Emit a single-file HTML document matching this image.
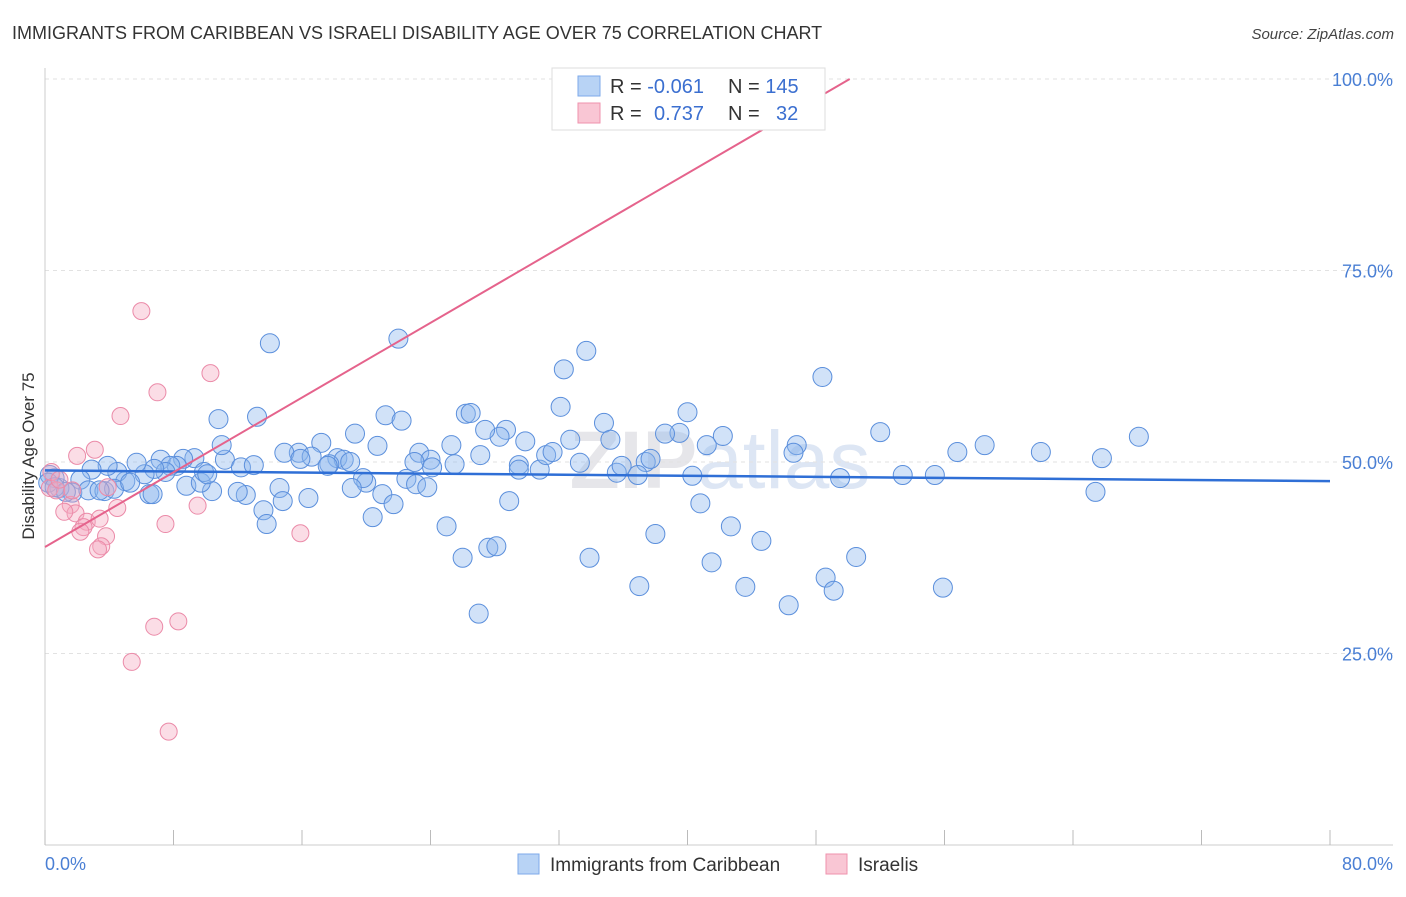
<!DOCTYPE html>
<html><head><meta charset="utf-8"><style>
body{margin:0;background:#fff;font-family:"Liberation Sans",sans-serif;}
</style></head><body>
<svg id="chart" width="1406" height="892" viewBox="0 0 1406 892" xmlns="http://www.w3.org/2000/svg" font-family="Liberation Sans, sans-serif">
<text x="12" y="39" font-size="18" fill="#333">IMMIGRANTS FROM CARIBBEAN VS ISRAELI DISABILITY AGE OVER 75 CORRELATION CHART</text>
<text x="1394" y="39" font-size="15" fill="#444" font-style="italic" text-anchor="end">Source: ZipAtlas.com</text>
<text x="720" y="488" font-size="82" fill="#e6e6ea" text-anchor="middle" font-weight="bold">ZIP<tspan fill="#dde6f4" font-weight="normal">atlas</tspan></text>
<g id="grid"></g>
<g id="axes"></g>
<g id="pts"></g>
<g id="lines"></g>
<text transform="translate(34,456) rotate(-90)" font-size="17" fill="#333" text-anchor="middle">Disability Age Over 75</text>
<text x="45" y="870" font-size="18" fill="#4a7fd4">0.0%</text>
<text x="1393" y="870" font-size="18" fill="#4a7fd4" text-anchor="end">80.0%</text>
<g>
<rect x="552" y="68" width="273" height="62" fill="#fff" stroke="#ddd"/>
<rect x="578" y="76" width="22" height="20" fill="#b8d3f5" stroke="#7eaaea"/>
<rect x="578" y="103" width="22" height="20" fill="#f9c6d4" stroke="#ef92ad"/>
<text x="610" y="93" font-size="20" fill="#333">R = <tspan fill="#3b6fd0">-0.061</tspan></text>
<text x="728" y="93" font-size="20" fill="#333">N = <tspan fill="#3b6fd0">145</tspan></text>
<text x="610" y="120" font-size="20" fill="#333">R = <tspan fill="#3b6fd0" x="654">0.737</tspan></text>
<text x="728" y="120" font-size="20" fill="#333">N = <tspan fill="#3b6fd0" x="776">32</tspan></text>
</g>
<g>
<rect x="518" y="854" width="21" height="20" fill="#b8d3f5" stroke="#7eaaea"/>
<text x="550" y="871" font-size="19" fill="#333">Immigrants from Caribbean</text>
<rect x="826" y="854" width="21" height="20" fill="#f9c6d4" stroke="#ef92ad"/>
<text x="858" y="871" font-size="19" fill="#333">Israelis</text>
</g>
</svg>
<script>
const yTicks=[25,50,75,100];
const yTickLabels=["25.0%","50.0%","75.0%","100.0%"];
const xTicks=[0,8,16,24,32,40,48,56,64,72,80];
const blueX=[14.0,22.0,33.7,32.3,48.4,10.8,13.2,21.2,22.2,26.2,26.5,32.1,34.8,40.0,52.0,68.1,58.5,62.0,65.8,56.8,46.8,46.6,42.2,39.5,38.6,41.2,35.2,32.7,28.7,28.3,27.4,29.9,25.3,19.3,20.7,17.2,15.8,14.9,16.6,18.2,18.6,15.9,17.7,17.6,19.0,23.3,24.0,23.0,24.1,25.5,27.1,29.5,29.5,30.8,31.2,31.6,33.3,35.6,35.9,37.4,37.7,36.9,40.3,49.5,53.4,55.4,65.4,20.0,19.8,19.1,22.5,23.1,23.8,21.0,21.7,20.4,16.4,14.6,14.8,13.6,13.8,12.5,12.0,10.4,11.2,12.2,13.0,11.0,9.3,8.6,8.2,7.2,7.8,7.5,6.8,6.2,5.7,5.0,4.5,3.9,2.9,2.2,1.7,2.7,3.7,4.3,5.3,6.5,6.7,8.8,9.7,9.9,10.1,3.4,0.9,0.6,0.3,0.2,0.6,1.3,28.9,25.0,26.0,27.6,28.1,33.9,38.0,42.7,44.6,41.5,40.8,37.0,43.6,46.3,48.6,49.1,50.5,55.9,27.0];
const blueY=[65.5,66.1,64.5,62.1,61.1,55.6,55.9,56.1,55.4,56.3,56.4,57.2,55.1,56.5,53.9,53.3,52.2,51.3,50.5,51.3,52.2,51.2,53.4,53.8,53.7,52.2,52.9,52.9,54.2,53.3,54.2,52.7,52.2,53.7,52.1,52.5,51.2,51.2,50.7,50.5,50.3,50.4,49.7,49.5,50.0,51.2,50.3,50.0,49.3,49.7,50.9,49.6,49.0,49.0,50.9,51.3,49.9,48.6,49.5,50.0,50.4,48.3,48.2,47.9,48.3,48.3,46.1,47.3,47.9,46.6,47.8,47.1,46.7,45.8,44.5,42.8,45.3,46.6,44.9,43.7,41.9,45.7,46.1,46.2,50.3,49.3,49.6,52.2,50.5,50.4,49.5,50.3,49.5,48.7,49.1,48.4,49.9,47.5,48.7,49.5,49.0,47.7,46.0,46.3,46.2,46.5,47.3,45.8,45.8,46.9,47.3,48.7,48.4,46.3,46.6,47.9,48.3,47.3,46.7,46.1,44.9,41.6,37.5,38.8,39.0,37.5,40.6,41.6,39.7,36.9,44.6,33.8,33.7,31.3,34.9,33.2,37.6,33.6,30.2];
const pinkX=[6.0,10.3,7.0,4.7,3.1,2.0,3.9,0.3,0.7,1.6,1.9,1.2,2.6,3.4,2.4,2.2,4.5,9.5,7.5,15.9,3.8,3.5,3.3,6.8,8.3,5.4,7.7,45.3,43.4,0.4,0.9,1.7];
const pinkY=[69.7,61.6,59.1,56.0,51.6,50.8,46.7,46.6,46.3,44.4,43.3,43.5,42.2,42.6,41.5,40.9,44.0,44.3,41.9,40.7,40.3,39.0,38.6,28.5,29.2,23.9,14.8,99.9,99.9,48.7,47.7,46.3];
const blueTrend=[48.9,47.5];
const pinkTrend=[38.9,100,50.1];
const NS="http://www.w3.org/2000/svg";
const xs=v=>45+v*(1285/80);
const ys=v=>845-v*7.66;
function mk(tag,attrs,parent){const e=document.createElementNS(NS,tag);for(const k in attrs)e.setAttribute(k,attrs[k]);parent.appendChild(e);return e;}
const grid=document.getElementById('grid'),axes=document.getElementById('axes'),pts=document.getElementById('pts'),lines=document.getElementById('lines');
yTicks.forEach((t,i)=>{
 const l=mk('line',{x1:45,x2:1393,y1:ys(t),y2:ys(t),stroke:'#e2e2e2','stroke-dasharray':'4,4'},grid);
 
 
 const tx=mk('text',{x:1393,y:ys(t)+7,'font-size':18,fill:'#4a7fd4','text-anchor':'end'},axes);
 tx.textContent=yTickLabels[i];
 
 
});
const ax=mk('line',{x1:45,x2:45,y1:68,y2:845,stroke:'#ccc'},axes);


const bx=mk('line',{x1:45,x2:1393,y1:845,y2:845,stroke:'#ccc'},axes);


xTicks.forEach(t=>{
 const l=mk('line',{x1:xs(t),x2:xs(t),y1:830,y2:845,stroke:'#bbb'},axes);
 
 
});
blueX.forEach((x,i)=>{
 const c=mk('circle',{cx:xs(x),cy:ys(blueY[i]),r:9.5,fill:'rgba(140,182,238,0.4)',stroke:'#5b8fdc','stroke-width':1},pts);
 
 
});
pinkX.forEach((x,i)=>{
 const c=mk('circle',{cx:xs(x),cy:ys(pinkY[i]),r:8.5,fill:'rgba(245,170,192,0.4)',stroke:'#eb8aa8','stroke-width':1},pts);
 
 
});
const bl=mk('line',{x1:xs(0),y1:ys(blueTrend[0]),x2:xs(80),y2:ys(blueTrend[1]),stroke:'#2f6fd6','stroke-width':2.5},lines);


const pl=mk('line',{x1:xs(0),y1:ys(pinkTrend[0]),x2:xs(pinkTrend[2]),y2:ys(pinkTrend[1]),stroke:'#e5638c','stroke-width':2},lines);


</script>
</body></html>
